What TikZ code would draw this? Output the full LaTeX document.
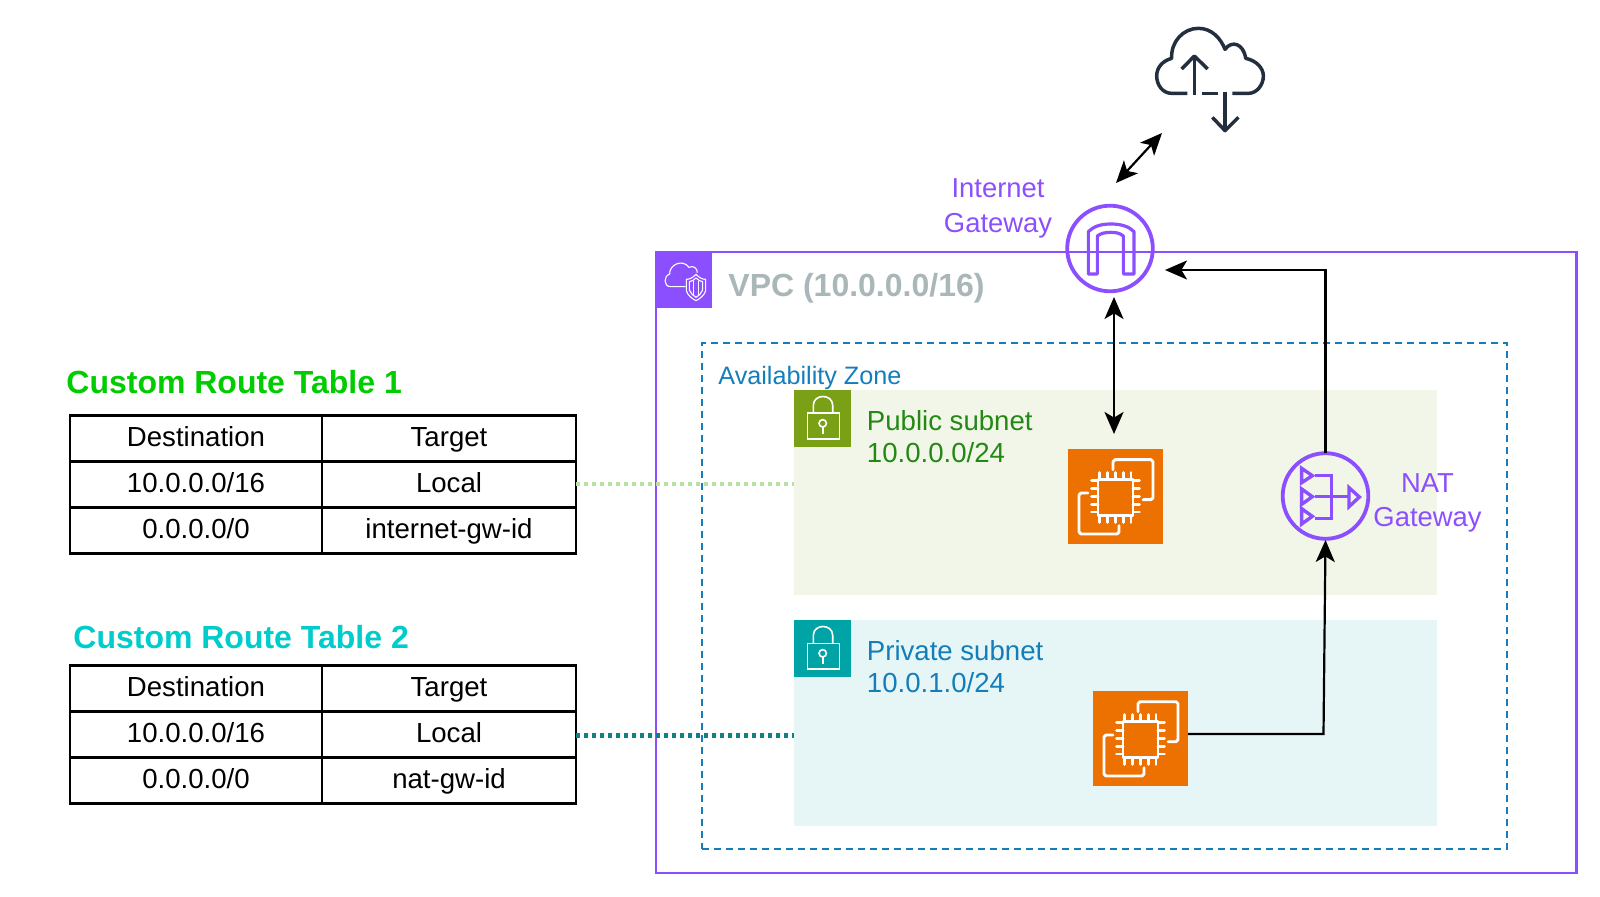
\documentclass[tikz,border=0pt]{standalone}
\usepackage{fontspec}
\setmainfont{Liberation Sans}
\usetikzlibrary{arrows.meta}
\definecolor{vpcpurple}{HTML}{8C4FFF}
\definecolor{azblue}{HTML}{147EBA}
\definecolor{pubgreen}{HTML}{248814}
\definecolor{lockgreen}{HTML}{7AA116}
\definecolor{lockteal}{HTML}{00A4A6}
\definecolor{pubbg}{HTML}{F2F6E8}
\definecolor{privbg}{HTML}{E6F6F7}
\definecolor{ecorange}{HTML}{ED7100}
\definecolor{vpcgrey}{HTML}{AAB7B8}
\definecolor{cloudink}{HTML}{232F3E}
\definecolor{rtgreen}{HTML}{00CC00}
\definecolor{rtcyan}{HTML}{00CCCC}
\definecolor{dotgreen}{HTML}{B9E0A5}
\definecolor{dotteal}{HTML}{0E8088}
\tikzset{
  x=0.5pt,y=-0.5pt,
  cell/.style={draw=black,line width=1.1pt,inner sep=0pt,outer sep=0pt,anchor=north west,
    minimum height=23pt,text height=7.7pt,text depth=0pt,
    font=\fontsize{13.8}{16}\selectfont},
  colA/.style={cell,minimum width=126pt},
  colB/.style={cell,minimum width=127pt},
  tabletitle/.style={anchor=base west,inner sep=0pt,font=\fontsize{16}{19}\bfseries\selectfont},
  lbl/.style={anchor=base west,inner sep=0pt,font=\fontsize{13.8}{16}\selectfont},
  purplelbl/.style={anchor=base,inner sep=0pt,text=vpcpurple,font=\fontsize{13.7}{16}\selectfont},
  conn/.style={draw=black,line width=1.1pt,line join=miter,
    -{Stealth[length=11pt,width=9.5pt,inset=2.8pt]}},
  biconn/.style={draw=black,line width=1.1pt,
    {Stealth[length=11pt,width=9.5pt,inset=2.8pt]}-{Stealth[length=11pt,width=9.5pt,inset=2.8pt]}},
  dotlink/.style={line width=2.2pt,dash pattern=on 2pt off 2pt},
  iconring/.style={circle,draw=vpcpurple,line width=1.9pt,minimum size=42.8pt,inner sep=0pt,outer sep=0pt},
  ecbox/.style={fill=ecorange,minimum size=47.5pt,inner sep=0pt,outer sep=0pt,anchor=north west},
  tag/.style={minimum width=28.7pt,minimum height=28.7pt,inner sep=0pt,outer sep=0pt,anchor=north west},
  lockicon/.pic={
    \draw[white,line width=.8pt] (13.3,23.3) rectangle (45.3,49);
    \draw[white,line width=.8pt] (19.3,23.3) -- (19.3,15.5) .. controls (19.3,3.5) and (38.7,3.5) .. (38.7,15.5) -- (38.7,23.3);
    \draw[white,line width=.8pt] (28.7,33.3) circle[radius=3.7];
    \draw[white,line width=.8pt] (28.7,37) -- (28.7,44);
  },
  ecicon/.pic={
    \begin{scope}[white,line width=1.45pt,line cap=round,line join=round]
    \draw (30,30.7) rectangle (65,66.3);
    \foreach \p in {31.7,39.5,47.7,55.5,63}{
      \draw (\p,23.5) -- (\p,30.7);
      \draw (\p,66.3) -- (\p,73.5);
      \draw (23.5,\p) -- (30,\p);
      \draw (65,\p) -- (71.5,\p);
    }
    \draw (45,20.7) -- (45,12.7) -- ++(2,-2) -- (83,10.7) -- ++(2,2) -- (85,48.7) -- ++(-2,2) -- (75,50.7);
    \draw (20,44) -- (13,44) -- ++(-2,2) -- (11,83) -- ++(2,2) -- (49,85) -- ++(2,-2) -- (51,76.7);
    \end{scope}
  }
}
\begin{document}
\begin{tikzpicture}
\useasboundingbox (0,0) rectangle (1600,897);

% containers
\node[anchor=north west,minimum width=460.2pt,minimum height=310.5pt,inner sep=0pt,outer sep=0pt,draw=vpcpurple,line width=1.1pt] (vpc) at (656,252) {};
\node[anchor=north west,minimum width=402.5pt,minimum height=253pt,inner sep=0pt,outer sep=0pt,draw=azblue,line width=1pt,dash pattern=on 3.4pt off 2.6pt] (az) at (702,343) {};
\node[anchor=north west,minimum width=321.5pt,minimum height=102.5pt,inner sep=0pt,outer sep=0pt,fill=pubbg] (pub) at (794,390) {};
\node[anchor=north west,minimum width=321.5pt,minimum height=103pt,inner sep=0pt,outer sep=0pt,fill=privbg] (priv) at (794,620) {};

% VPC tag
\node[tag,fill=vpcpurple] (vpctag) at (655,251) {};
\begin{scope}[shift={(654,250)},x=0.1667pt,y=-0.1667pt,white,line width=.55pt,line join=round]
  \draw (95,110) -- (50,110) .. controls (28,110) and (28,78) .. (47,72) .. controls (45,45) and (85,25) .. (105,52) .. controls (118,45) and (130,55) .. (130,68);
  \draw (126,73) .. controls (115,85) and (105,88) .. (97,88) -- (97,122) .. controls (100,135) and (115,147) .. (126,152) .. controls (137,147) and (152,135) .. (155,122) -- (155,88) .. controls (147,88) and (137,85) .. (126,73) -- cycle;
  \draw (126,84) .. controls (120,90) and (112,95) .. (106,95) -- (106,120) .. controls (110,130) and (118,138) .. (126,142) .. controls (134,138) and (142,130) .. (146,120) -- (146,95) .. controls (140,95) and (132,90) .. (126,84) -- cycle;
  \draw (118,94) -- (118,136) (134,94) -- (134,136);
\end{scope}

% subnet tags
\node[tag,fill=lockgreen] (pubtag) at (794,390) {};
\pic at (794,390) {lockicon};
\node[tag,fill=lockteal] (privtag) at (794,620) {};
\pic at (794,620) {lockicon};

% labels
\node[anchor=base west,inner sep=0pt,text=vpcgrey,font=\fontsize{16}{19}\bfseries\selectfont] (vpclbl) at (728,297) {VPC (10.0.0.0/16)};
\node[anchor=base west,inner sep=0pt,text=azblue,font=\fontsize{12.6}{15}\selectfont] (azlbl) at (718,385) {Availability Zone};
\node[lbl,text=pubgreen] (publ1) at (866.5,431) {Public subnet};
\node[lbl,text=pubgreen] (publ2) at (866.5,462.5) {10.0.0.0/24};
\node[lbl,text=azblue] (privl1) at (866.5,660) {Private subnet};
\node[lbl,text=azblue] (privl2) at (866.5,692) {10.0.1.0/24};
\node[purplelbl] (igwl1) at (998,198) {Internet};
\node[purplelbl] (igwl2) at (998,232.5) {Gateway};
\node[purplelbl] (natl1) at (1427.5,492.5) {NAT};
\node[purplelbl] (natl2) at (1427.5,526.5) {Gateway};

% Internet cloud
\coordinate (cloudport) at (1162,133);
\begin{scope}[shift={(1100,0)},x=0.1667pt,y=-0.1667pt,draw=cloudink,line width=1.75pt,line join=round]
  \draw (262,280) -- (215,280) .. controls (188,280) and (170,255) .. (170,228) .. controls (170,200) and (190,182) .. (215,175) .. controls (212,125) and (250,85) .. (295,85) .. controls (335,85) and (362,115) .. (375,148) .. controls (395,120) and (430,130) .. (437,175) .. controls (470,182) and (490,205) .. (490,228) .. controls (490,255) and (470,280) .. (445,280) -- (397,280);
  \draw (305,280) -- (355,280);
  \draw (283,285) -- (283,170);
  \draw (245,207) -- (283,168) -- (323,207);
  \draw (375,275) -- (375,392);
  \draw (337,352) -- (375,392) -- (415,352);
\end{scope}

% Internet gateway
\node[iconring] (igw) at (1110,248.5) {};
\begin{scope}[shift={(1060,200)},x=0.1667pt,y=-0.1667pt,draw=vpcpurple,line width=1.6pt,line join=round]
  \draw (85,222) -- (85,95) .. controls (100,80) and (120,72) .. (153,72) .. controls (185,72) and (207,80) .. (222,95) -- (222,222) -- (190,222) -- (190,108) .. controls (180,100) and (170,97) .. (153,97) .. controls (135,97) and (122,100) .. (112,108) -- (112,222) -- cycle;
\end{scope}

% NAT gateway
\node[iconring] (nat) at (1325.5,496) {};
\begin{scope}[shift={(1280,450)},x=0.1667pt,y=-0.1667pt,draw=vpcpurple,line width=1.7pt,line join=miter]
  \draw (65,55) -- (65,98) -- (97,77) -- cycle;
  \draw (65,117) -- (65,163) -- (97,140) -- cycle;
  \draw (65,176) -- (65,222) -- (97,199) -- cycle;
  \draw (207,113) -- (207,170) -- (238,141) -- cycle;
  \draw (105,77) -- (155,77) -- (155,205) -- (105,205);
  \draw (105,140) -- (207,140);
\end{scope}

% EC2 instances
\node[ecbox] (ecpub) at (1068,449) {};
\pic at (1068,449) {ecicon};
\node[ecbox] (ecpriv) at (1093,691) {};
\pic at (1093,691) {ecicon};

% connectors
\coordinate (igwnear) at (1116,183);
\coordinate (igwsouth) at (1114,297);
\coordinate (pubtop) at (1114,434);
\coordinate (igwin) at (1165,270);
\coordinate (natcorner) at (1323.5,734);
\coordinate (natin) at (1325.5,540);
\draw[biconn] (igwnear) -- (cloudport);
\draw[biconn] (igwsouth) -- (pubtop);
\draw[conn] (nat.north) |- (igwin);
\draw[conn] (ecpriv.east |- natcorner) -- (natcorner) -- (natin);

% route table 1
\node[tabletitle,text=rtgreen] (rt1title) at (66,394) {Custom Route Table 1};
\node[colA] (a11) at (70,415.5) {Destination};
\node[colB] (b11) at (322,415.5) {Target};
\node[colA] (a12) at (70,461.5) {10.0.0.0/16};
\node[colB] (b12) at (322,461.5) {Local};
\node[colA] (a13) at (70,507.5) {0.0.0.0/0};
\node[colB] (b13) at (322,507.5) {internet-gw-id};

% route table 2
\node[tabletitle,text=rtcyan] (rt2title) at (73,648) {Custom Route Table 2};
\node[colA] (a21) at (70,665.5) {Destination};
\node[colB] (b21) at (322,665.5) {Target};
\node[colA] (a22) at (70,711.5) {10.0.0.0/16};
\node[colB] (b22) at (322,711.5) {Local};
\node[colA] (a23) at (70,757.5) {0.0.0.0/0};
\node[colB] (b23) at (322,757.5) {nat-gw-id};

% links
\draw[dotlink,draw=dotgreen] (b12.east |- 0,484) -- (pub.west |- 0,484);
\draw[dotlink,draw=dotteal] (b22.east |- 0,735.5) -- (priv.west |- 0,735.5);
\end{tikzpicture}
\end{document}
